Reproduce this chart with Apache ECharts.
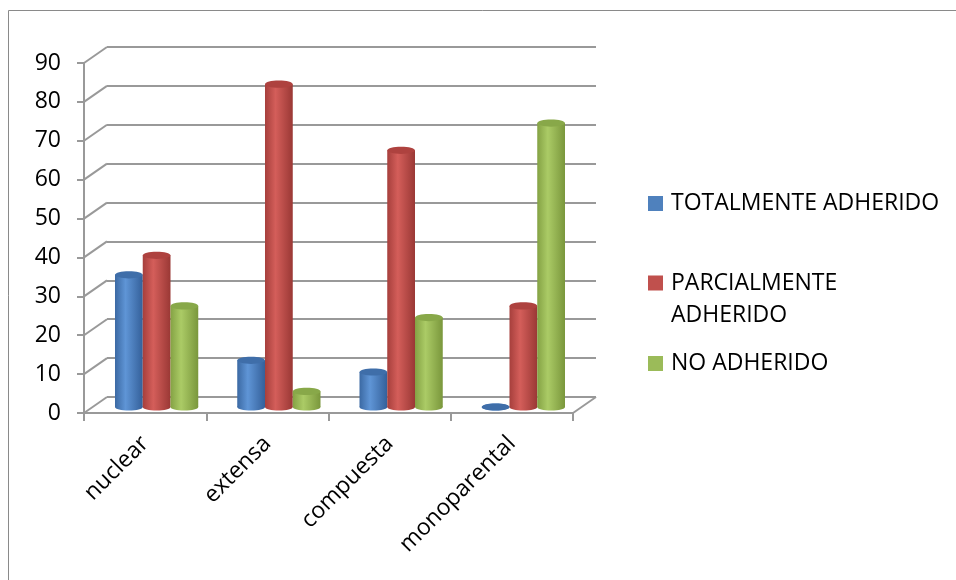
<!DOCTYPE html>
<html>
<head>
<meta charset="utf-8">
<script src="https://cdn.jsdelivr.net/npm/echarts@6/dist/echarts.min.js"></script>
<style>
  html, body { margin: 0; padding: 0; background: #ffffff; }
  #chart { width: 956px; height: 580px; }
</style>
</head>
<body>
<div id="chart"></div>
<script>
// Family types and adherence levels (percent)
const categories = ['nuclear', 'extensa', 'compuesta', 'monoparental'];
const seriesNames = ['TOTALMENTE ADHERIDO', 'PARCIALMENTE ADHERIDO', 'NO ADHERIDO'];
const totalmente = [34, 12, 9, 0];
const parcialmente = [39, 83, 66, 26];
const noAdherido = [26, 4, 23, 73];
const yTicks = [0, 10, 20, 30, 40, 50, 60, 70, 80, 90];

const FONT = 'Open Sans';
const LINE = '#999999';
// shift from the front plane to the back wall, in pixels
const DEPTH_X = 23;
const DEPTH_Y = -16;
const BAR_FRAC = 0.227;

// cylinder shading per series
const shades = [
  { base: '#4F81BD', edgeL: '#3b69a3', hi: '#5f95d6', edgeR: '#34609a', cap: '#3f6ea9' },
  { base: '#C0504D', edgeL: '#a63f3c', hi: '#d45e5a', edgeR: '#9a3835', cap: '#ae423f' },
  { base: '#9BBB59', edgeL: '#84a244', hi: '#abcb66', edgeR: '#7a973c', cap: '#88a849' }
];

const chart = echarts.init(document.getElementById('chart'), null, { renderer: 'canvas' });

function cylinder(seriesPos, shade) {
  return function (params, api) {
    const cat = api.value(0);
    const val = api.value(1);
    const base = api.coord([cat, 0]);
    const top = api.coord([cat, val]);
    const band = api.size([1, 0])[0];
    const bw = band * BAR_FRAC;
    const cx = base[0] + seriesPos * bw;
    const rx = bw / 2;
    const ry = bw * 0.13;
    const grad = new echarts.graphic.LinearGradient(0, 0, 1, 0, [
      { offset: 0, color: shade.edgeL },
      { offset: 0.38, color: shade.hi },
      { offset: 1, color: shade.edgeR }
    ]);
    return {
      type: 'group',
      children: [
        { type: 'ellipse', shape: { cx: cx, cy: base[1], rx: rx, ry: ry }, style: { fill: grad } },
        { type: 'rect', shape: { x: cx - rx, y: top[1], width: bw, height: base[1] - top[1] }, style: { fill: grad } },
        { type: 'ellipse', shape: { cx: cx, cy: top[1], rx: rx, ry: ry }, style: { fill: shade.cap } }
      ]
    };
  };
}

const barData = [totalmente, parcialmente, noAdherido];
const barSeries = barData.map(function (values, i) {
  return {
    name: seriesNames[i],
    type: 'custom',
    xAxisIndex: 2,
    yAxisIndex: 2,
    clip: false,
    z: 5,
    itemStyle: { color: shades[i].base },
    renderItem: cylinder(i - 1, shades[i]),
    data: values.map(function (v, c) { return [c, v]; })
  };
});

// side wall lines (left) and the floor's right edge, from the front plane back
const wallData = yTicks.map(function (v) { return [0, v, -1]; })
  .concat([[categories.length - 1, 0, 1]]);

const wallSeries = {
  name: 'pared',
  type: 'custom',
  xAxisIndex: 0,
  yAxisIndex: 0,
  clip: false,
  silent: true,
  z: 1,
  renderItem: function (params, api) {
    const p = api.coord([api.value(0), api.value(1)]);
    const band = api.size([1, 0])[0];
    const x0 = p[0] + api.value(2) * band / 2;
    return {
      type: 'line',
      shape: { x1: x0, y1: p[1], x2: x0 + DEPTH_X, y2: p[1] + DEPTH_Y },
      style: { stroke: LINE, lineWidth: 2 }
    };
  },
  data: wallData
};

const legendText = { fontFamily: FONT, fontSize: 23, color: '#000000', padding: [0, 0, 0, 3] };

const option = {
  animation: false,
  backgroundColor: '#ffffff',
  grid: [
    { left: 84, top: 63, width: 489, height: 350 },   // front plane
    { left: 107, top: 47, width: 489, height: 350 },  // back wall
    { left: 95.5, top: 57, width: 489, height: 350 }  // bar plane
  ],
  xAxis: [
    {
      type: 'category', gridIndex: 0, data: categories,
      axisLine: { show: true, lineStyle: { color: LINE, width: 2 } },
      axisTick: { show: true, length: 8, lineStyle: { color: LINE, width: 2 } },
      axisLabel: { rotate: 45, margin: 27, fontFamily: FONT, fontSize: 23, color: '#000000' },
      splitLine: { show: false }
    },
    { type: 'category', gridIndex: 1, data: categories, show: false },
    { type: 'category', gridIndex: 2, data: categories, show: false }
  ],
  yAxis: [
    {
      type: 'value', gridIndex: 0, min: 0, max: 90, interval: 10,
      axisLine: { show: true, lineStyle: { color: LINE, width: 2 } },
      axisTick: { show: true, length: 7, lineStyle: { color: LINE, width: 2 } },
      axisLabel: { margin: 23, fontFamily: FONT, fontSize: 23, color: '#000000' },
      splitLine: { show: false }
    },
    {
      type: 'value', gridIndex: 1, min: 0, max: 90, interval: 10,
      axisLine: { show: false }, axisTick: { show: false }, axisLabel: { show: false },
      splitLine: { show: true, lineStyle: { color: LINE, width: 2 } }
    },
    {
      type: 'value', gridIndex: 2, min: 0, max: 90, interval: 10, show: false,
      splitLine: { show: false }
    }
  ],
  legend: [
    {
      data: [seriesNames[0]], left: 648, top: 192, orient: 'vertical', padding: 0,
      icon: 'rect', itemWidth: 15, itemHeight: 15, textStyle: legendText, selectedMode: false
    },
    {
      data: [seriesNames[1]], left: 648, top: 267, orient: 'vertical', padding: 0,
      icon: 'path://M0,0h15v15h-15zM0,47h15', itemWidth: 15, itemHeight: 47,
      formatter: function () { return 'PARCIALMENTE\nADHERIDO'; },
      textStyle: Object.assign({ lineHeight: 32 }, legendText), selectedMode: false
    },
    {
      data: [seriesNames[2]], left: 648, top: 352, orient: 'vertical', padding: 0,
      icon: 'rect', itemWidth: 15, itemHeight: 15, textStyle: legendText, selectedMode: false
    }
  ],
  graphic: [
    {
      type: 'rect', silent: true, z: -10,
      shape: { x: 8.5, y: 10.5, width: 1000, height: 1000 },
      style: { fill: null, stroke: '#8a8a8a', lineWidth: 1 }
    }
  ],
  series: [wallSeries].concat(barSeries)
};

chart.setOption(option);
</script>
</body>
</html>
